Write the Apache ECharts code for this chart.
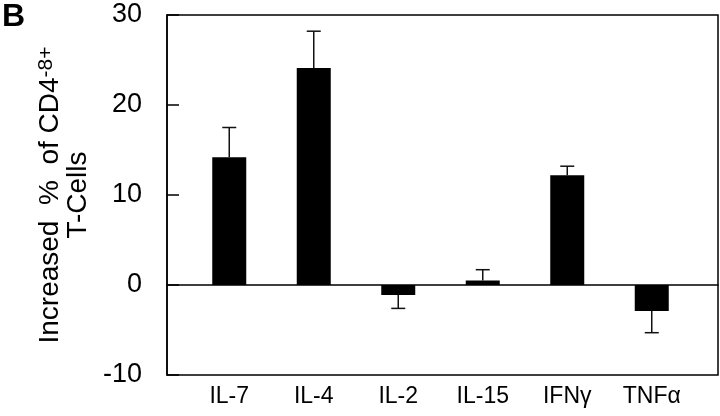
<!DOCTYPE html>
<html>
<head>
<meta charset="utf-8">
<script src="https://cdn.jsdelivr.net/npm/echarts@6/dist/echarts.min.js"></script>
<style>
  html, body { margin: 0; padding: 0; background: #fff; }
  #chart { width: 720px; height: 416px; }
</style>
</head>
<body>
<div id="chart"></div>
<script>
// data
var cytokines = ['IL-7', 'IL-4', 'IL-2', 'IL-15', 'IFNγ', 'TNFα']
var increase = [14.2, 24.1, -1.1, 0.5, 12.2, -2.9]
// end of the error bar (one-sided, away from zero)
var errorEnd = [17.5, 28.2, -2.6, 1.7, 13.2, -5.3]
var yTicks = [-10, 0, 10, 20, 30]

var font = "'Liberation Sans', Arial, Helvetica, sans-serif"

var chart = echarts.init(document.getElementById('chart'))

var errData = increase.map(function (v, i) {
  return [i, v, errorEnd[i]]
})

var option = {
  animation: false,
  textStyle: { fontFamily: font },
  graphic: [{
    type: 'text',
    left: 2,
    top: 1,
    style: { text: 'B', font: "bold 32px 'Liberation Sans', Arial, sans-serif", fill: '#000' }
  }],
  grid: [
    // frame + y axis
    { left: 167, right: 2, top: 15, bottom: 41, show: true, borderColor: '#000', borderWidth: 1.5 },
    // bars
    { left: 187, right: 26, top: 15, bottom: 41 }
  ],
  xAxis: [
    {
      gridIndex: 0,
      type: 'category',
      data: [''],
      axisLine: { onZero: true, lineStyle: { color: '#000', width: 1.5 } },
      axisTick: { show: false },
      axisLabel: { show: false }
    },
    {
      gridIndex: 1,
      type: 'category',
      data: cytokines,
      axisLine: { show: false, onZero: false },
      axisTick: { show: false },
      axisLabel: { margin: 10, fontSize: 23, color: '#000', fontFamily: font }
    }
  ],
  yAxis: [
    {
      gridIndex: 0,
      type: 'value',
      min: yTicks[0],
      max: yTicks[yTicks.length - 1],
      interval: 10,
      name: 'Increased  %  of CD4{sup|-8+}\nT-Cells',
      nameLocation: 'middle',
      nameRotate: 90,
      nameGap: 70,
      nameTextStyle: {
        fontSize: 28,
        color: '#000',
        lineHeight: 28,
        fontFamily: font,
        rich: {
          sup: { fontSize: 21, verticalAlign: 'top', color: '#000', fontFamily: font }
        }
      },
      axisLine: { show: true, lineStyle: { color: '#000', width: 1.5 } },
      axisTick: { show: true, inside: true, length: 12, lineStyle: { color: '#000', width: 1.5 } },
      axisLabel: { fontSize: 27, margin: 25, color: '#000', fontFamily: font },
      splitLine: { show: false }
    },
    {
      gridIndex: 1,
      type: 'value',
      min: yTicks[0],
      max: yTicks[yTicks.length - 1],
      interval: 10,
      show: false
    }
  ],
  series: [
    {
      type: 'bar',
      xAxisIndex: 1,
      yAxisIndex: 1,
      data: increase,
      barWidth: 34,
      itemStyle: { color: '#000' }
    },
    {
      type: 'custom',
      xAxisIndex: 1,
      yAxisIndex: 1,
      data: errData,
      z: 3,
      renderItem: function (params, api) {
        var i = api.value(0)
        var base = api.coord([i, api.value(1)])
        var end = api.coord([i, api.value(2)])
        var cap = 7
        var st = { stroke: '#111', lineWidth: 1.5 }
        return {
          type: 'group',
          children: [
            { type: 'line', shape: { x1: base[0], y1: base[1], x2: end[0], y2: end[1] }, style: st },
            { type: 'line', shape: { x1: end[0] - cap, y1: end[1], x2: end[0] + cap, y2: end[1] }, style: st }
          ]
        }
      }
    }
  ]
}

chart.setOption(option)
</script>
</body>
</html>
